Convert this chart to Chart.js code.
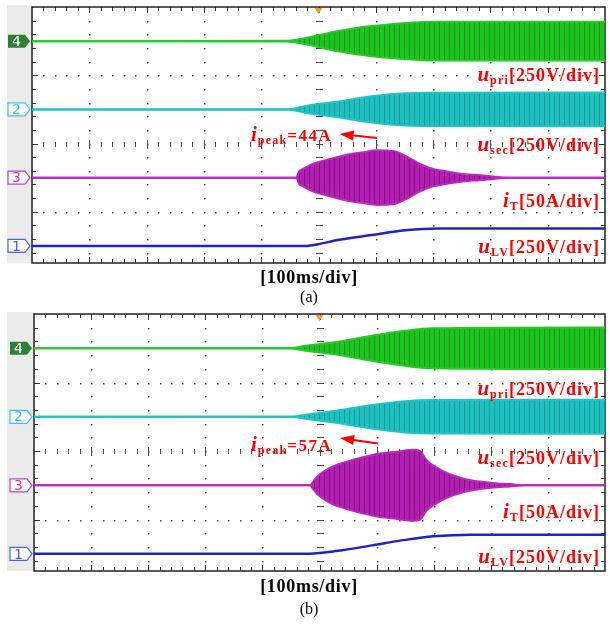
<!DOCTYPE html>
<html>
<head>
<meta charset="utf-8">
<script src="https://cdn.jsdelivr.net/npm/chart.js@4.4.1/dist/chart.umd.min.js"></script>
<style>
  body { margin: 0; background: #fff; width: 610px; height: 626px; position: relative; overflow: hidden;
         font-family: "Liberation Serif", "Times New Roman", serif; }
  canvas { position: absolute; left: 0; }
  .lbl { position: absolute; right: 10px; color: #f00; font-weight: bold; font-size: 18px;
         letter-spacing: 1px; white-space: nowrap; line-height: 20px; }
  .lbl i { font-size: 21px; letter-spacing: 0; margin-right: 1px; }
  .lbl sub { font-size: 12px; line-height: 0; vertical-align: -3px; letter-spacing: 1.2px; }
  .pk { right: auto; font-size: 17px; letter-spacing: 1.5px; }
  .cap { position: absolute; left: 159px; width: 300px; text-align: center; color: #000; line-height: 20px; }
  .cap.b { font-weight: bold; font-size: 18px; letter-spacing: 0.7px; }
  .cap.n { font-size: 16px; }
</style>
</head>
<body>
<canvas id="scopeA" width="610" height="310" style="top:0;width:610px;height:310px"></canvas>
<canvas id="scopeB" width="610" height="310" style="top:307px;width:610px;height:310px"></canvas>

<div class="lbl" style="top:64px"><i>u</i><sub>pri</sub>[250V/div]</div>
<div class="lbl" style="top:134px"><i>u</i><sub>sec</sub>[250V/div]</div>
<div class="lbl" style="top:190px"><i>i</i><sub>T</sub>[50A/div]</div>
<div class="lbl" style="top:236px"><i>u</i><sub>LV</sub>[250V/div]</div>
<div class="lbl pk" style="left:251px;top:124px"><i>i</i><sub>peak</sub>=44A</div>
<div class="cap b" style="top:267px">[100ms/div]</div>
<div class="cap n" style="top:287px">(a)</div>

<div class="lbl" style="top:378px"><i>u</i><sub>pri</sub>[250V/div]</div>
<div class="lbl" style="top:447px"><i>u</i><sub>sec</sub>[250V/div]</div>
<div class="lbl" style="top:501px"><i>i</i><sub>T</sub>[50A/div]</div>
<div class="lbl" style="top:546px"><i>u</i><sub>LV</sub>[250V/div]</div>
<div class="lbl pk" style="left:251px;top:434px"><i>i</i><sub>peak</sub>=57A</div>
<div class="cap b" style="top:576px">[100ms/div]</div>
<div class="cap n" style="top:599px">(b)</div>

<script>
// time axis in ms (100 ms/div), envelope amplitudes in V / A

// (a)
const tPriA = [0, 445, 476, 505, 534, 563, 593, 622, 651, 680, 709, 1000];
const uPriA = [0, 1, 11, 24, 37, 47, 55, 61, 66, 70, 71, 71];
const tSecA = [0, 450, 476, 534, 593, 651, 709, 1000];
const uSecA = [0, 1, 12, 29, 48, 59, 61, 62];
const tIA = [0, 461, 466, 473, 490, 520, 550, 578, 602, 630, 654, 677, 700, 724, 752, 782, 805, 830, 1000];
const iTA = [0, 0, 10, 14, 22, 30, 37, 41, 44, 43, 34, 22, 14, 10, 6, 4, 2, 0, 0];
const tLvA = [0, 480, 499, 534, 593, 651, 709, 1000];
const uLvA = [0, 0, 6, 22, 40, 57, 64, 64];

// (b)
const tPriB = [0, 450, 475, 532, 592, 650, 699, 1000];
const uPriB = [0, 1, 9, 24, 46, 64, 73, 76];
const tSecB = [0, 455, 475, 532, 592, 650, 699, 1000];
const uSecB = [0, 1, 7, 23, 43, 57, 61, 62];
const tIB = [0, 483, 489, 495, 518, 548, 576, 606, 636, 664, 676, 688, 706, 723, 751, 781, 811, 834, 860, 1000];
const iTB = [0, 0, 6, 13, 28, 38, 45, 51, 54, 57, 55, 40, 28, 20, 11, 6, 3, 2, 0, 0];
const tLvB = [0, 475, 532, 592, 650, 699, 767, 1000];
const uLvB = [0, 0, 11, 31, 51, 64, 70, 70];

// channel ground levels (div) and gains
const chLevel = { 4: 2.5, 2: 1.5, 3: 0.5, 1: -0.5 };
const V_PER_DIV = 250;
const A_PER_DIV = 110;

function stripes(base, dark) {
  const c = document.createElement('canvas');
  c.width = 5; c.height = 1;
  const g = c.getContext('2d');
  g.fillStyle = base; g.fillRect(0, 0, 5, 1);
  g.fillStyle = dark; g.fillRect(4, 0, 1, 1);
  return g.createPattern(c, 'repeat');
}

function envelope(t, amp, level, gain, color, fillPat) {
  const common = { borderColor: color, borderWidth: 2, pointRadius: 0, cubicInterpolationMode: 'monotone' };
  return [
    { ...common, data: t.map((x, k) => ({ x, y: level + amp[k] / gain })), fill: false },
    { ...common, data: t.map((x, k) => ({ x, y: level - amp[k] / gain })), fill: '-1', backgroundColor: fillPat }
  ];
}

function drawMarker(ctx, num, py, color, filled, x0, x1) {
  ctx.beginPath();
  ctx.moveTo(x0, py - 6.5); ctx.lineTo(x1 - 5, py - 6.5); ctx.lineTo(x1, py);
  ctx.lineTo(x1 - 5, py + 6.5); ctx.lineTo(x0, py + 6.5); ctx.closePath();
  if (filled) { ctx.fillStyle = color; ctx.fill(); }
  else { ctx.fillStyle = '#fff'; ctx.fill(); ctx.strokeStyle = color; ctx.lineWidth = 1.2; ctx.stroke(); }
  ctx.fillStyle = filled ? '#fff' : color;
  ctx.font = '14px "DejaVu Sans"';
  ctx.textBaseline = 'middle';
  ctx.fillText(num, x0 + 4, py + 1);
}

const scopeGrid = {
  id: 'scopeGrid',
  beforeDatasetsDraw(chart) {
    const { ctx, chartArea: a, scales: { x, y } } = chart;
    ctx.save();
    ctx.fillStyle = '#ebebeb';
    ctx.fillRect(7, a.top - 2, a.left - 7, a.bottom - a.top + 2);

    ctx.fillStyle = '#4a4a4a';
    // vertical division lines
    for (let d = 1; d < 10; d++) {
      const px = Math.round(x.getPixelForValue(d * 100));
      for (let k = -3; k <= 14; k++) {
        const py = Math.round(y.getPixelForValue(k * 0.2));
        if (d === 5) ctx.fillRect(px - 3, py, 7, 1);
        else ctx.fillRect(px, py, 1.5, 1.5);
      }
    }
    // horizontal division lines
    for (let v = 0; v <= 2; v++) {
      const py = Math.round(y.getPixelForValue(v));
      for (let k = 1; k < 50; k++) {
        const px = Math.round(x.getPixelForValue(k * 20));
        if (v === 1) {
          const h = k % 5 === 0 ? 4 : 2;
          ctx.fillRect(px, py - h, 1, 2 * h + 1);
        } else if (k % 5 !== 0) ctx.fillRect(px, py, 1.5, 1.5);
      }
    }
    // frame with minor ticks
    ctx.fillStyle = '#333';
    for (let k = -3; k <= 14; k++) {
      const py = Math.round(y.getPixelForValue(k * 0.2));
      const len = k % 5 === 0 ? 6 : 4;
      ctx.fillRect(a.left, py, len, 1);
      ctx.fillRect(a.right - len, py, len, 1);
    }
    for (let k = 1; k < 50; k++) {
      const px = Math.round(x.getPixelForValue(k * 20));
      const len = k % 5 === 0 ? 6 : 4;
      ctx.fillRect(px, a.top, 1, len);
      ctx.fillRect(px, a.bottom - len, 1, len);
    }
    ctx.strokeStyle = '#222';
    ctx.lineWidth = 1.5;
    ctx.strokeRect(a.left, a.top, a.right - a.left, a.bottom - a.top);
    ctx.restore();
  },
  afterDatasetsDraw(chart, args, opts) {
    const { ctx, chartArea: a, scales: { x, y } } = chart;
    ctx.save();
    drawMarker(ctx, '4', y.getPixelForValue(chLevel[4]), '#2f7f35', true, a.left - 24, a.left - 2);
    drawMarker(ctx, '2', y.getPixelForValue(chLevel[2]), '#35c8dc', false, a.left - 24, a.left - 2);
    drawMarker(ctx, '3', y.getPixelForValue(chLevel[3]), '#c23cc2', false, a.left - 24, a.left - 2);
    drawMarker(ctx, '1', y.getPixelForValue(chLevel[1]), '#4a62ee', false, a.left - 24, a.left - 2);

    // trigger position
    const tx = x.getPixelForValue(500);
    ctx.fillStyle = '#f0a020';
    ctx.beginPath();
    ctx.moveTo(tx - 4, a.top + 1); ctx.lineTo(tx + 4, a.top + 1); ctx.lineTo(tx, a.top + 7); ctx.closePath();
    ctx.fill();

    // arrow towards the peak-current label
    const [t0, v0, t1, v1] = opts.arrow;
    const x0 = x.getPixelForValue(t0), y0 = y.getPixelForValue(v0);
    const x1 = x.getPixelForValue(t1), y1 = y.getPixelForValue(v1);
    const ang = Math.atan2(y1 - y0, x1 - x0);
    ctx.strokeStyle = ctx.fillStyle = '#f00';
    ctx.lineWidth = 2;
    ctx.beginPath();
    ctx.moveTo(x0, y0);
    ctx.lineTo(x1 - 10 * Math.cos(ang), y1 - 10 * Math.sin(ang));
    ctx.stroke();
    ctx.beginPath();
    ctx.moveTo(x1, y1);
    ctx.lineTo(x1 - 14 * Math.cos(ang) + 5 * Math.sin(ang), y1 - 14 * Math.sin(ang) - 5 * Math.cos(ang));
    ctx.lineTo(x1 - 14 * Math.cos(ang) - 5 * Math.sin(ang), y1 - 14 * Math.sin(ang) + 5 * Math.cos(ang));
    ctx.closePath();
    ctx.fill();
    ctx.restore();
  }
};

const greenFill = stripes('#1ec41e', '#129612');
const cyanFill = stripes('#1ec0c0', '#0e9a9a');
const magentaFill = stripes('#b21eb2', '#840684');

function makeScope(id, padding, s, arrow) {
  const datasets = [
    ...envelope(s.tPri, s.uPri, chLevel[4], V_PER_DIV, '#28c828', greenFill),
    ...envelope(s.tSec, s.uSec, chLevel[2], V_PER_DIV, '#20c2c6', cyanFill),
    ...envelope(s.tI, s.iT, chLevel[3], A_PER_DIV, '#bc28bc', magentaFill),
    {
      data: s.tLv.map((x, k) => ({ x, y: chLevel[1] + s.uLv[k] / V_PER_DIV })),
      borderColor: '#1e24bc', borderWidth: 2.5, pointRadius: 0, cubicInterpolationMode: 'monotone', fill: false
    }
  ];
  return new Chart(document.getElementById(id), {
    type: 'line',
    data: { datasets },
    options: {
      responsive: false,
      animation: false,
      events: [],
      layout: { padding },
      plugins: { legend: { display: false }, tooltip: { enabled: false }, scopeGrid: { arrow } },
      scales: {
        x: { type: 'linear', min: 0, max: 1000, display: false },
        y: { type: 'linear', min: -0.75, max: 3, display: false }
      }
    },
    plugins: [scopeGrid]
  });
}

makeScope('scopeA', { left: 32, right: 5, top: 7, bottom: 47 },
  { tPri: tPriA, uPri: uPriA, tSec: tSecA, uSec: uSecA, tI: tIA, iT: iTA, tLv: tLvA, uLv: uLvA },
  [602, 1.08, 537, 1.14]);

makeScope('scopeB', { left: 34, right: 5, top: 7, bottom: 46 },
  { tPri: tPriB, uPri: uPriB, tSec: tSecB, uSec: uSecB, tI: tIB, iT: iTB, tLv: tLvB, uLv: uLvB },
  [602, 1.11, 536, 1.19]);
</script>
</body>
</html>
